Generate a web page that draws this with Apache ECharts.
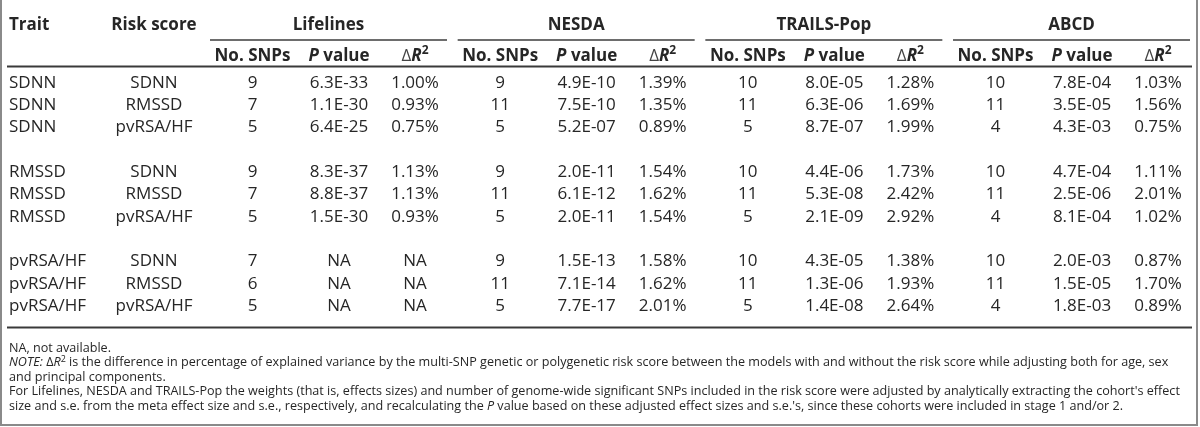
<!DOCTYPE html>
<html>
<head>
<meta charset="utf-8">
<script src="https://cdn.jsdelivr.net/npm/echarts@6/dist/echarts.min.js"></script>
<style>
  html, body { margin: 0; padding: 0; background: #ffffff; }
  #chart { width: 1200px; height: 427px; }
</style>
</head>
<body>
<div id="chart"></div>
<script>
// ---------------- DATA ----------------
const cohorts = ['Lifelines', 'NESDA', 'TRAILS-Pop', 'ABCD'];
const leftHeaders = ['Trait', 'Risk score'];
const subHeaders = ['No. SNPs', '{i|P} value', '{d|Δ}{i|R}{sup|2}'];
const traits = ['SDNN', 'SDNN', 'SDNN', 'RMSSD', 'RMSSD', 'RMSSD', 'pvRSA/HF', 'pvRSA/HF', 'pvRSA/HF'];
const riskScores = ['SDNN', 'RMSSD', 'pvRSA/HF', 'SDNN', 'RMSSD', 'pvRSA/HF', 'SDNN', 'RMSSD', 'pvRSA/HF'];

const lifelinesSNPs = [9, 7, 5, 9, 7, 5, 7, 6, 5];
const lifelinesP = ['6.3E-33', '1.1E-30', '6.4E-25', '8.3E-37', '8.8E-37', '1.5E-30', 'NA', 'NA', 'NA'];
const lifelinesDR2 = ['1.00%', '0.93%', '0.75%', '1.13%', '1.13%', '0.93%', 'NA', 'NA', 'NA'];

const nesdaSNPs = [9, 11, 5, 9, 11, 5, 9, 11, 5];
const nesdaP = ['4.9E-10', '7.5E-10', '5.2E-07', '2.0E-11', '6.1E-12', '2.0E-11', '1.5E-13', '7.1E-14', '7.7E-17'];
const nesdaDR2 = ['1.39%', '1.35%', '0.89%', '1.54%', '1.62%', '1.54%', '1.58%', '1.62%', '2.01%'];

const trailsSNPs = [10, 11, 5, 10, 11, 5, 10, 11, 5];
const trailsP = ['8.0E-05', '6.3E-06', '8.7E-07', '4.4E-06', '5.3E-08', '2.1E-09', '4.3E-05', '1.3E-06', '1.4E-08'];
const trailsDR2 = ['1.28%', '1.69%', '1.99%', '1.73%', '2.42%', '2.92%', '1.38%', '1.93%', '2.64%'];

const abcdSNPs = [10, 11, 4, 10, 11, 4, 10, 11, 4];
const abcdP = ['7.8E-04', '3.5E-05', '4.3E-03', '4.7E-04', '2.5E-06', '8.1E-04', '2.0E-03', '1.5E-05', '1.8E-03'];
const abcdDR2 = ['1.03%', '1.56%', '0.75%', '1.11%', '2.01%', '1.02%', '0.87%', '1.70%', '0.89%'];

const footnotes = [
  'NA, not available.',
  '{i|NOTE:} {d|Δ}{i|R}{sup|2} is the difference in percentage of explained variance by the multi-SNP genetic or polygenetic risk score between the models with and without the risk score while adjusting both for age, sex',
  'and principal components.',
  'For Lifelines, NESDA and TRAILS-Pop the weights (that is, effects sizes) and number of genome-wide significant SNPs included in the risk score were adjusted by analytically extracting the cohort\'s effect',
  'size and s.e. from the meta effect size and s.e., respectively, and recalculating the {i|P} value based on these adjusted effect sizes and s.e.\'s, since these cohorts were included in stage 1 and/or 2.'
];

const cohortColumns = [
  [lifelinesSNPs, lifelinesP, lifelinesDR2],
  [nesdaSNPs, nesdaP, nesdaDR2],
  [trailsSNPs, trailsP, trailsDR2],
  [abcdSNPs, abcdP, abcdDR2]
];

// ---------------- LAYOUT (positions / sizes / styles) ----------------
const W = 1200, H = 427;
const FONT = '"Open Sans", "Noto Sans", sans-serif';
const TXT = '#262626';
const tableLeft = 7, tableRight = 1192;
const traitTextX = 9;
const riskCenterX = 154;
const groupStart = 210, groupStep = 247.67;
const subColWidths = [85, 88, 64];
const yHeader1 = 25, yHeader2 = 56, yUnderline = 40, yHeaderLine = 66.5, yBottomLine = 327.5;
const yFirstRow = 83, rowStep = 22.3, rowsPerBlock = 3;
const yFoot0 = 348, footStep = 14.6;
const bodySize = 17, footSize = 12.6;

function groupEdges(g) {
  const s = groupStart + g * groupStep;
  return [s, s + subColWidths.reduce((a, b) => a + b, 0)];
}
function subColCenter(g, c) {
  let x = groupEdges(g)[0];
  for (let k = 0; k < c; k++) x += subColWidths[k];
  return x + subColWidths[c] / 2;
}
function rowY(i) {
  return yFirstRow + (i + Math.floor(i / rowsPerBlock)) * rowStep;
}

// ---------------- BUILD CELLS ----------------
const cells = [];
function addCell(x, y, text, opts) {
  cells.push(Object.assign({ x, y, text: String(text), align: 'center', bold: false, size: bodySize }, opts || {}));
}
addCell(traitTextX, yHeader1, leftHeaders[0], { align: 'left', bold: true });
addCell(riskCenterX, yHeader1, leftHeaders[1], { bold: true });
cohorts.forEach((name, g) => {
  const e = groupEdges(g);
  addCell((e[0] + e[1]) / 2, yHeader1, name, { bold: true });
  subHeaders.forEach((h, c) => addCell(subColCenter(g, c), yHeader2, h, { bold: true }));
});
traits.forEach((t, i) => {
  addCell(traitTextX, rowY(i), t, { align: 'left' });
  addCell(riskCenterX, rowY(i), riskScores[i]);
  cohortColumns.forEach((cols, g) => {
    cols.forEach((arr, c) => addCell(subColCenter(g, c), rowY(i), arr[i]));
  });
});
footnotes.forEach((f, k) => addCell(traitTextX, yFoot0 + k * footStep, f, { align: 'left', size: footSize }));

const lines = [];
cohorts.forEach((name, g) => {
  const e = groupEdges(g);
  lines.push({ x1: e[0], y1: yUnderline, x2: e[1], y2: yUnderline, color: '#6d6d6d', width: 2 });
});
lines.push({ x1: tableLeft, y1: yHeaderLine, x2: tableRight, y2: yHeaderLine, color: '#3a3a3a', width: 2 });
lines.push({ x1: tableLeft, y1: yBottomLine, x2: tableRight, y2: yBottomLine, color: '#3a3a3a', width: 2 });
// frame
lines.push({ x1: 1, y1: 0, x2: 1, y2: 425, color: '#8a8a8a', width: 2 });
lines.push({ x1: 1197, y1: 0, x2: 1197, y2: 425, color: '#8a8a8a', width: 2 });
lines.push({ x1: 0, y1: 425, x2: 1198, y2: 425, color: '#8a8a8a', width: 2 });

// ---------------- CHART ----------------
const chart = echarts.init(document.getElementById('chart'), null, { renderer: 'canvas' });
function richStyles(size, bold) {
  const lh = Math.round(size * 1.3);
  const w = bold ? 'bold' : 'normal';
  return {
    i: { fontStyle: 'italic', fontWeight: w, fontSize: size, fontFamily: FONT, fill: TXT, lineHeight: lh },
    d: { fontWeight: 'normal', fontSize: size, fontFamily: FONT, fill: bold ? '#444' : TXT, lineHeight: lh },
    sup: { fontSize: Math.round(size * 0.68), fontWeight: w, fontFamily: FONT, fill: TXT, verticalAlign: 'top', lineHeight: Math.round(size * 0.55) }
  };
}

chart.setOption({
  backgroundColor: '#ffffff',
  animation: false,
  grid: { left: 0, right: 0, top: 0, bottom: 0 },
  xAxis: { type: 'value', min: 0, max: W, show: false },
  yAxis: { type: 'value', min: 0, max: H, inverse: true, show: false },
  series: [
    {
      type: 'custom',
      silent: true,
      data: lines.map(l => [l.x1, l.y1, l.x2, l.y2]),
      renderItem: function (params, api) {
        const l = lines[params.dataIndex];
        const p1 = api.coord([api.value(0), api.value(1)]);
        const p2 = api.coord([api.value(2), api.value(3)]);
        return { type: 'line', shape: { x1: p1[0], y1: p1[1], x2: p2[0], y2: p2[1] }, style: { stroke: l.color, lineWidth: l.width } };
      }
    },
    {
      type: 'custom',
      silent: true,
      data: cells.map(c => [c.x, c.y]),
      renderItem: function (params, api) {
        const c = cells[params.dataIndex];
        const p = api.coord([api.value(0), api.value(1)]);
        return {
          type: 'text',
          x: p[0], y: p[1],
          style: {
            text: c.text,
            fill: TXT,
            fontFamily: FONT,
            fontSize: c.size,
            fontWeight: c.bold ? 'bold' : 'normal',
            lineHeight: Math.round(c.size * 1.3),
            align: c.align,
            verticalAlign: 'middle',
            rich: richStyles(c.size, c.bold)
          }
        };
      }
    }
  ]
});
</script>
</body>
</html>
